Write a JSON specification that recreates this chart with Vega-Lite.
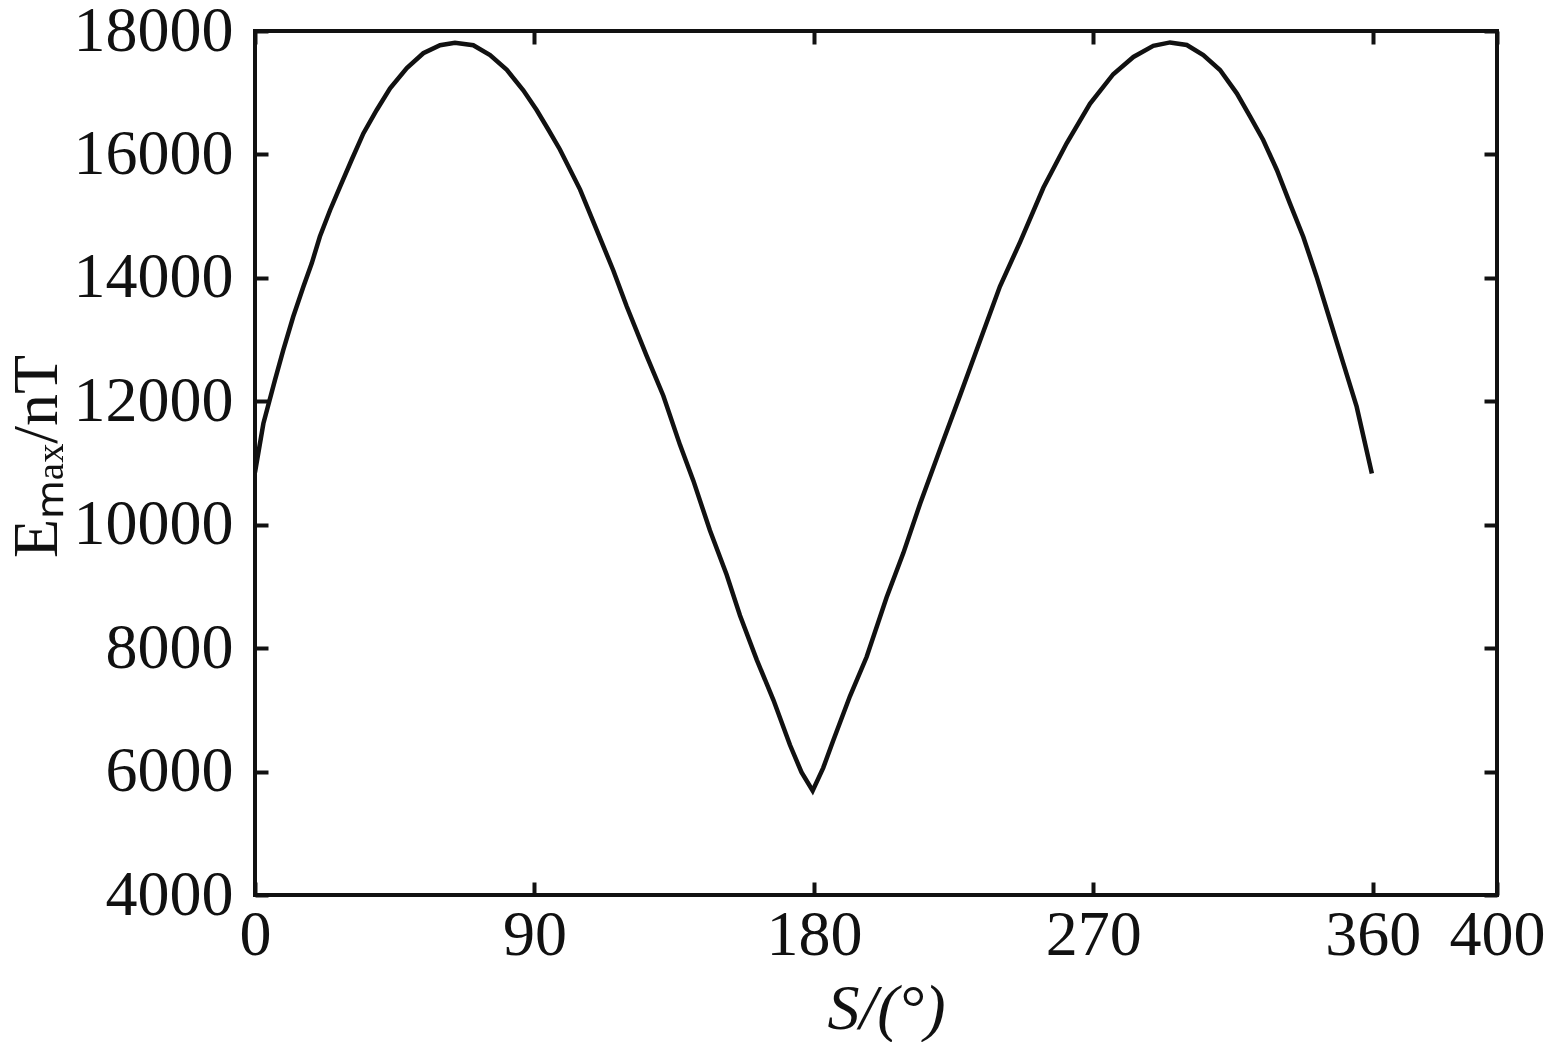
{
  "$schema": "https://vega.github.io/schema/vega-lite/v6.json",
  "width": 1242,
  "height": 864,
  "autosize": {"type": "none"},
  "padding": {"left": 255, "top": 31, "right": 53, "bottom": 147},
  "background": "white",
  "config": {
    "view": {"stroke": "#111111", "strokeWidth": 4},
    "font": "Liberation Serif",
    "axis": {
      "grid": false,
      "domain": false,
      "tickColor": "#111111",
      "tickWidth": 4,
      "tickSize": -13,
      "labelFont": "Liberation Serif",
      "labelFontSize": 64,
      "labelColor": "#111111",
      "labelFlush": false,
      "labelOverlap": false,
      "format": "d",
      "titleFont": "Liberation Serif",
      "titleFontSize": 64,
      "titleFontWeight": "normal",
      "titleColor": "#111111"
    }
  },
  "data": {
    "values": [
      {"S": 0, "E": 10850},
      {"S": 2.7, "E": 11640},
      {"S": 6.4, "E": 12340},
      {"S": 9.1, "E": 12830},
      {"S": 12.3, "E": 13370},
      {"S": 15.6, "E": 13860},
      {"S": 18.3, "E": 14240},
      {"S": 20.9, "E": 14670},
      {"S": 24.2, "E": 15100},
      {"S": 27.4, "E": 15480},
      {"S": 31.1, "E": 15910},
      {"S": 34.9, "E": 16340},
      {"S": 39.2, "E": 16720},
      {"S": 43.5, "E": 17070},
      {"S": 48.9, "E": 17400},
      {"S": 54.2, "E": 17640},
      {"S": 59.6, "E": 17770},
      {"S": 64.4, "E": 17810},
      {"S": 70.3, "E": 17770},
      {"S": 75.7, "E": 17610},
      {"S": 81.1, "E": 17370},
      {"S": 86.4, "E": 17040},
      {"S": 90.7, "E": 16720},
      {"S": 94.5, "E": 16400},
      {"S": 98.2, "E": 16080},
      {"S": 104.7, "E": 15430},
      {"S": 110, "E": 14780},
      {"S": 115.4, "E": 14120},
      {"S": 119.7, "E": 13540},
      {"S": 126.1, "E": 12740},
      {"S": 131.5, "E": 12090},
      {"S": 136.9, "E": 11290},
      {"S": 141.2, "E": 10710},
      {"S": 146.5, "E": 9910},
      {"S": 151.9, "E": 9190},
      {"S": 156.2, "E": 8530},
      {"S": 161.6, "E": 7810},
      {"S": 167, "E": 7155},
      {"S": 172.3, "E": 6430},
      {"S": 176, "E": 5990},
      {"S": 179.6, "E": 5690},
      {"S": 183, "E": 6060},
      {"S": 186.2, "E": 6500},
      {"S": 191.6, "E": 7220},
      {"S": 197, "E": 7860},
      {"S": 203.4, "E": 8820},
      {"S": 208.8, "E": 9540},
      {"S": 214.2, "E": 10340},
      {"S": 220.6, "E": 11220},
      {"S": 227.1, "E": 12100},
      {"S": 233.5, "E": 12980},
      {"S": 239.9, "E": 13860},
      {"S": 246.4, "E": 14580},
      {"S": 253.9, "E": 15460},
      {"S": 261.4, "E": 16180},
      {"S": 268.9, "E": 16820},
      {"S": 276.4, "E": 17300},
      {"S": 282.9, "E": 17580},
      {"S": 289.3, "E": 17760},
      {"S": 294.7, "E": 17815},
      {"S": 300.1, "E": 17773},
      {"S": 305.4, "E": 17611},
      {"S": 310.8, "E": 17368},
      {"S": 316.2, "E": 16990},
      {"S": 320.5, "E": 16612},
      {"S": 324.7, "E": 16234},
      {"S": 329.1, "E": 15748},
      {"S": 333.3, "E": 15208},
      {"S": 337.6, "E": 14667},
      {"S": 341.9, "E": 14019},
      {"S": 346.2, "E": 13317},
      {"S": 350.5, "E": 12615},
      {"S": 354.8, "E": 11913},
      {"S": 359.7, "E": 10830}
    ]
  },
  "layer": [
    {
      "mark": {"type": "line", "color": "#111111", "strokeWidth": 4.5, "clip": true},
      "encoding": {
        "x": {
          "field": "S", "type": "quantitative",
          "scale": {"domain": [0, 400], "nice": false, "zero": false},
          "axis": {
            "orient": "bottom",
            "values": [0, 90, 180, 270, 360, 400],
            "labelPadding": 21,
            "title": "S/(°)",
            "titleX": 631,
            "titleY": 133,
            "titleAlign": "center",
            "titleBaseline": "alphabetic",
            "titleFontStyle": "italic"
          }
        },
        "y": {
          "field": "E", "type": "quantitative",
          "scale": {"domain": [4000, 18000], "nice": false, "zero": false},
          "axis": {
            "orient": "left",
            "values": [4000, 6000, 8000, 10000, 12000, 14000, 16000, 18000],
            "labelPadding": 35,
            "labelBaseline": "middle",
            "title": "Eₘₐₓ/nT",
            "titleAngle": -90,
            "titleX": -199,
            "titleY": 425,
            "titleAlign": "center",
            "titleBaseline": "alphabetic"
          }
        }
      }
    },
    {
      "mark": {"type": "line", "strokeOpacity": 0},
      "encoding": {
        "x": {
          "field": "S", "type": "quantitative",
          "axis": {"orient": "top", "values": [0, 90, 180, 270, 360, 400], "labels": false, "title": null}
        },
        "y": {
          "field": "E", "type": "quantitative",
          "axis": {"orient": "right", "values": [4000, 6000, 8000, 10000, 12000, 14000, 16000, 18000], "labels": false, "title": null}
        }
      }
    }
  ],
  "resolve": {"axis": {"x": "independent", "y": "independent"}}
}
